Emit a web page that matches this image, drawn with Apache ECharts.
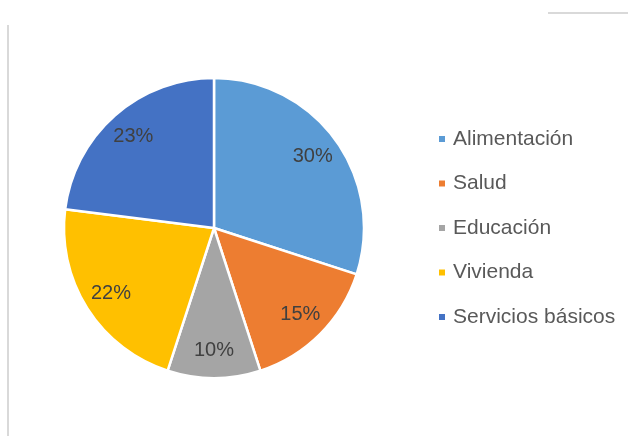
<!DOCTYPE html>
<html>
<head>
<meta charset="utf-8">
<script src="https://cdn.jsdelivr.net/npm/echarts@6/dist/echarts.min.js"></script>
<style>
  html, body { margin: 0; padding: 0; background: #fff; }
  #chart { width: 628px; height: 436px; }
</style>
</head>
<body>
<div id="chart"></div>
<script>
var categories = ['Alimentación', 'Salud', 'Educación', 'Vivienda', 'Servicios básicos'];
var shares = [30, 15, 10, 22, 23];
var colors = ['#5B9BD5', '#ED7D31', '#A5A5A5', '#FFC000', '#4472C4'];

var data = categories.map(function (name, i) {
    return { name: name, value: shares[i], itemStyle: { color: colors[i] } };
});

var center = [214, 228];

var option = {
    animation: false,
    backgroundColor: '#fff',
    graphic: [
        { type: 'line', shape: { x1: 8, y1: 25, x2: 8, y2: 436 }, style: { stroke: '#d9d9d9', lineWidth: 2 } },
        { type: 'line', shape: { x1: 548, y1: 13, x2: 628, y2: 13 }, style: { stroke: '#d9d9d9', lineWidth: 2 } }
    ],
    legend: {
        orient: 'vertical',
        left: 432,
        top: 122,
        itemWidth: 8,
        itemHeight: 8,
        itemGap: 20.5,
        icon: 'rect',
        data: categories,
        textStyle: {
            fontFamily: 'Liberation Sans',
            fontSize: 21,
            color: '#595959',
            lineHeight: 24,
            padding: [0, 0, 0, 2]
        }
    },
    series: [{
        name: 'Gasto',
        type: 'pie',
        center: center,
        radius: 150,
        startAngle: 90,
        clockwise: true,
        data: data,
        label: { show: false },
        labelLine: { show: false },
        itemStyle: { borderColor: '#fff', borderWidth: 2.5 }
    }, {
        name: 'Etiquetas',
        type: 'pie',
        center: center,
        radius: [88, 150],
        startAngle: 90,
        clockwise: true,
        silent: true,
        legendHoverLink: false,
        data: data.map(function (d) {
            return { name: d.name, value: d.value, itemStyle: { color: 'transparent' } };
        }),
        itemStyle: { borderWidth: 0 },
        label: {
            show: true,
            position: 'inside',
            formatter: '{c}%',
            fontFamily: 'Liberation Sans',
            fontSize: 20,
            color: '#404040'
        },
        labelLine: { show: false }
    }]
};

var myChart = echarts.init(document.getElementById('chart'));
myChart.setOption(option);
</script>
</body>
</html>
